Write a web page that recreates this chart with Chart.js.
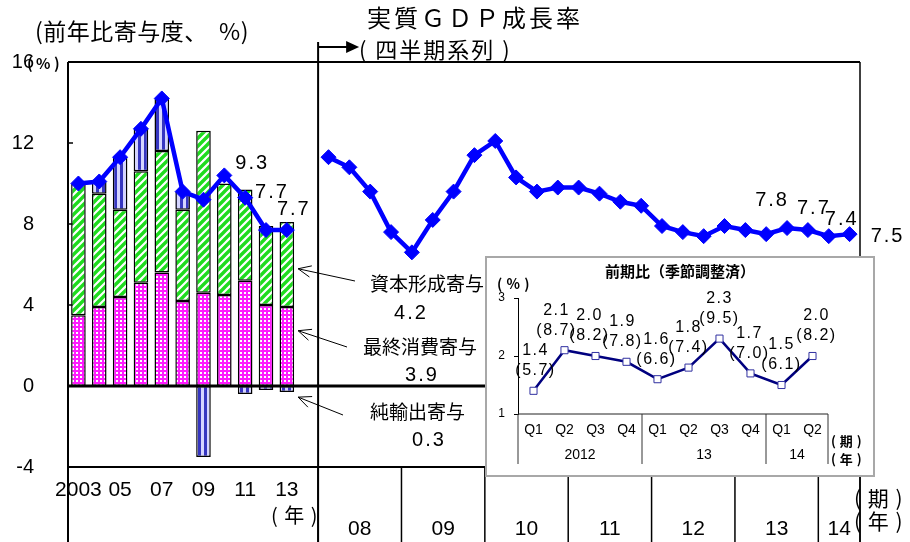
<!DOCTYPE html>
<html lang="ja">
<head>
<meta charset="utf-8">
<title>実質GDP成長率</title>
<script src="https://cdn.jsdelivr.net/npm/chart.js@4.4.1/dist/chart.umd.min.js"></script>
<style>
    html, body { margin: 0; padding: 0; background: #fff; }
    #wrap { position: relative; width: 910px; height: 542px; overflow: hidden; }
    #main { position: absolute; left: 0; top: 0; }
    #insetBox { position: absolute; left: 485px; top: 256px; width: 386px; height: 217px; border: 2px solid #a8a8a8; background: #fff; }
    #inset { display: block; }
</style>
</head>
<body>
<div id="wrap">
    <canvas id="main" width="910" height="542"></canvas>
    <div id="insetBox"><canvas id="inset" width="386" height="217"></canvas></div>
</div>
<script>
// 年次寄与度（2003〜2013年）
const years = ['2003', '2004', '2005', '2006', '2007', '2008', '2009', '2010', '2011', '2012', '2013'];
const yearTicks = ['2003', '', '05', '', '07', '', '09', '', '11', '', '13'];
const consumption = [3.5, 3.9, 4.4, 5.1, 5.6, 4.2, 4.6, 4.5, 5.2, 4.0, 3.9];
const capital = [6.5, 5.6, 4.3, 5.5, 6.0, 4.5, 8.0, 5.5, 4.5, 3.9, 4.2];
const netExports = [0, 0.6, 2.6, 2.1, 2.6, 0.9, -3.5, 0, -0.4, -0.2, -0.3];
const annualGrowth = [10.0, 10.1, 11.3, 12.7, 14.2, 9.6, 9.2, 10.4, 9.3, 7.7, 7.7];

// 四半期系列（2008Q1〜2014Q2、前年同期比）
const quarterYears = ['08', '09', '10', '11', '12', '13', '14'];
const quarterly = [11.3, 10.8, 9.6, 7.6, 6.6, 8.2, 9.6, 11.4, 12.1, 10.3, 9.6, 9.8, 9.8, 9.5, 9.1, 8.9,
                   7.9, 7.6, 7.4, 7.9, 7.7, 7.5, 7.8, 7.7, 7.4, 7.5];

const yTicks = [-4, 0, 4, 8, 12, 16];

// 前期比（季節調整済）
const insetQuarters = ['Q1', 'Q2', 'Q3', 'Q4', 'Q1', 'Q2', 'Q3', 'Q4', 'Q1', 'Q2'];
const insetYears = ['2012', '13', '14'];
const insetYearSpans = [4, 4, 2];
const qoq = [1.4, 2.1, 2.0, 1.9, 1.6, 1.8, 2.3, 1.7, 1.5, 2.0];
const annualized = [5.7, 8.7, 8.2, 7.8, 6.6, 7.4, 9.5, 7.0, 6.1, 8.2];

// 数値ラベルを付ける点と、点からのずらし量
const annualLabelIdx = [8, 9, 10];
const annualLabelShift = [[7, -34], [6, -38], [7, -21]];
const quarterLabelIdx = [22, 23, 24, 25];
const quarterLabelShift = [[-15, -28], [6, -22], [13, -17], [38, 2]];
const insetLabelShift = [2, -8, -6, -4, -1, 0, 0, -1, 0, 4];

const NUM = '"Liberation Sans", Arial, sans-serif';
const JP = '"Noto Sans CJK JP", "Noto Sans", sans-serif';
const GDP_BLUE = '#0000ff';

Chart.defaults.color = '#000';
Chart.defaults.font.family = NUM;

function makePattern(w, h, paint) {
    const c = document.createElement('canvas');
    c.width = w;
    c.height = h;
    const g = c.getContext('2d');
    paint(g, w, h);
    return g.createPattern(c, 'repeat');
}

const pinkChecks = makePattern(4, 4, (g) => {
    g.fillStyle = '#ff1aff';
    g.fillRect(0, 0, 4, 4);
    g.fillStyle = '#ffffff';
    g.fillRect(0, 0, 2, 2);
});

const greenStripes = makePattern(8, 8, (g) => {
    g.fillStyle = '#ffffff';
    g.fillRect(0, 0, 8, 8);
    g.strokeStyle = '#1fdc1f';
    g.lineWidth = 3.4;
    g.beginPath();
    g.moveTo(-4, 12); g.lineTo(12, -4);
    g.moveTo(-4, 4); g.lineTo(4, -4);
    g.moveTo(4, 12); g.lineTo(12, 4);
    g.stroke();
});

const blueStripes = makePattern(6, 2, (g) => {
    g.fillStyle = '#d4d4ff';
    g.fillRect(0, 0, 6, 2);
    g.fillStyle = '#3636c0';
    g.fillRect(0, 0, 3, 2);
});

const pad = n => Array(n).fill(null);
const nQ = quarterly.length;
const mainLabels = years.concat(['']).concat(quarterly.map((_, i) => quarterYears[Math.floor(i / 4)] + 'Q' + (i % 4 + 1)));
const firstQuarter = years.length + 1;

function spacedText(ctx, text, x, y, font, align, spacing) {
    ctx.save();
    ctx.font = font;
    ctx.textAlign = align || 'left';
    ctx.textBaseline = 'middle';
    ctx.letterSpacing = (spacing || 0) + 'px';
    ctx.fillStyle = '#000';
    ctx.fillText(text, x, y);
    ctx.restore();
}

function line(ctx, x1, y1, x2, y2, w, color) {
    ctx.save();
    ctx.strokeStyle = color || '#000';
    ctx.lineWidth = w;
    ctx.beginPath();
    ctx.moveTo(x1, y1);
    ctx.lineTo(x2, y2);
    ctx.stroke();
    ctx.restore();
}

function openArrow(ctx, fromX, fromY, toX, toY) {
    line(ctx, fromX, fromY, toX, toY, 1);
    const ang = Math.atan2(fromY - toY, fromX - toX);
    [0.42, -0.42].forEach(d => {
        line(ctx, toX, toY, toX + 14 * Math.cos(ang + d), toY + 14 * Math.sin(ang + d), 1);
    });
}

// 枠線・年区切り・軸ラベル
const mainFrame = {
    id: 'mainFrame',
    beforeDatasetsDraw(chart) {
        const { ctx, chartArea: a, scales: { x, y } } = chart;
        const half = (x.getPixelForValue(1) - x.getPixelForValue(0)) / 2;
        const split = x.getPixelForValue(firstQuarter) - half;
        const H = chart.height;

        line(ctx, a.left, a.top, a.right, a.top, 2);
        line(ctx, a.left, a.top, a.left, H, 2);
        line(ctx, a.right, a.top, a.right, H, 1.5);
        line(ctx, split, 42, split, H, 2);
        line(ctx, a.left, a.bottom, a.right, a.bottom, 2);

        yTicks.forEach(v => {
            const py = y.getPixelForValue(v);
            line(ctx, a.left, py, a.left + 5, py, 1.5);
        });

        // 四半期側の年区切り
        for (let k = 0; k <= quarterYears.length; k++) {
            const idx = Math.min(firstQuarter + 4 * k, firstQuarter + nQ);
            const px = idx >= firstQuarter + nQ ? a.right : x.getPixelForValue(idx) - half;
            line(ctx, px, a.bottom, px, H, 1.5);
        }
    },
    afterDatasetsDraw(chart) {
        const { ctx, chartArea: a, scales: { x, y } } = chart;
        const half = (x.getPixelForValue(1) - x.getPixelForValue(0)) / 2;
        const split = x.getPixelForValue(firstQuarter) - half;

        line(ctx, a.left, y.getPixelForValue(0), a.right, y.getPixelForValue(0), 3);

        // 年次の横軸ラベル
        yearTicks.forEach((t, i) => {
            if (t) spacedText(ctx, t, x.getPixelForValue(i), a.bottom + 23, '21px ' + NUM, 'center', 0);
        });
        spacedText(ctx, '( 年 )', x.getPixelForValue(years.length - 1) + 8, a.bottom + 48, '20px ' + JP, 'center', 1);

        // 四半期側の年ラベル
        quarterYears.forEach((t, k) => {
            const i0 = firstQuarter + 4 * k;
            const i1 = Math.min(i0 + 3, firstQuarter + nQ - 1);
            const cx = (x.getPixelForValue(i0) + x.getPixelForValue(i1)) / 2;
            spacedText(ctx, t, cx, a.bottom + 62, '21px ' + NUM, 'center', 0);
        });
        spacedText(ctx, '( 期 )', a.right - 6, a.bottom + 31, '21px ' + JP, 'left', 1);
        spacedText(ctx, '( 年 )', a.right - 6, a.bottom + 54, '21px ' + JP, 'left', 1);

        // 数値ラベル
        const annualMeta = chart.getDatasetMeta(3);
        annualLabelIdx.forEach((idx, k) => {
            const p = annualMeta.data[idx];
            spacedText(ctx, annualGrowth[idx].toFixed(1), p.x + annualLabelShift[k][0], p.y + annualLabelShift[k][1], '20px ' + NUM, 'center', 2);
        });
        const quarterMeta = chart.getDatasetMeta(4);
        quarterLabelIdx.forEach((qi, k) => {
            const p = quarterMeta.data[firstQuarter + qi];
            spacedText(ctx, quarterly[qi].toFixed(1), p.x + quarterLabelShift[k][0], p.y + quarterLabelShift[k][1], '20px ' + NUM, 'center', 2);
        });

        // 2013年の寄与度の引き出し線
        const last = years.length - 1;
        const bar = chart.getDatasetMeta(0).data[last];
        const hx = bar.x + bar.width / 2 + 4;
        const c = consumption[last], k = capital[last], n = netExports[last];
        openArrow(ctx, 355, 281, hx, y.getPixelForValue(c + k * 0.45));
        spacedText(ctx, '資本形成寄与', 370, 284, '19px ' + JP, 'left', 0);
        spacedText(ctx, k.toFixed(1), 411, 313, '20px ' + NUM, 'center', 2);
        openArrow(ctx, 347, 347, hx, y.getPixelForValue(c * 0.7));
        spacedText(ctx, '最終消費寄与', 363, 347, '19px ' + JP, 'left', 0);
        spacedText(ctx, c.toFixed(1), 422, 375, '20px ' + NUM, 'center', 2);
        openArrow(ctx, 343, 415, hx, y.getPixelForValue(n - 0.25));
        spacedText(ctx, '純輸出寄与', 370, 412, '19px ' + JP, 'left', 0);
        spacedText(ctx, Math.abs(n).toFixed(1), 429, 440, '20px ' + NUM, 'center', 2);

        // 見出し
        spacedText(ctx, '(前年比寄与度、  %)', 35, 31, '23px ' + JP, 'left', 0.5);
        spacedText(ctx, '( % )', 27, 63, 'bold 15px ' + JP, 'left', 0);
        spacedText(ctx, '実質ＧＤＰ成長率', 367, 18, '24px ' + JP, 'left', 3);
        spacedText(ctx, '( 四半期系列 )', 359, 50, '22px ' + JP, 'left', 2);
        line(ctx, split, 47, split + 30, 47, 2);
        ctx.save();
        ctx.fillStyle = '#000';
        ctx.beginPath();
        ctx.moveTo(split + 28, 41);
        ctx.lineTo(split + 41, 47);
        ctx.lineTo(split + 28, 53);
        ctx.closePath();
        ctx.fill();
        ctx.restore();
    }
};

const barStyle = {
    borderColor: '#000',
    borderWidth: 1.5,
    borderSkipped: false,
    barPercentage: 0.7,
    categoryPercentage: 1,
    stack: 'contrib',
    order: 3
};

const lineStyle = {
    type: 'line',
    borderColor: GDP_BLUE,
    borderWidth: 4.5,
    pointStyle: 'rectRot',
    pointRadius: 7.5,
    pointBackgroundColor: GDP_BLUE,
    pointBorderColor: GDP_BLUE,
    pointBorderWidth: 1,
    spanGaps: false,
    tension: 0,
    order: 1
};

new Chart(document.getElementById('main'), {
    type: 'bar',
    data: {
        labels: mainLabels,
        datasets: [
            { ...barStyle, label: '最終消費寄与', data: consumption.concat(pad(nQ + 1)), backgroundColor: pinkChecks },
            { ...barStyle, label: '資本形成寄与', data: capital.concat(pad(nQ + 1)), backgroundColor: greenStripes },
            { ...barStyle, label: '純輸出寄与', data: netExports.map(v => v === 0 ? null : v).concat(pad(nQ + 1)), backgroundColor: blueStripes },
            { ...lineStyle, label: '実質GDP成長率（年）', stack: 'annual', data: annualGrowth.concat(pad(nQ + 1)) },
            { ...lineStyle, label: '実質GDP成長率（四半期）', stack: 'quarterly', data: pad(firstQuarter).concat(quarterly) }
        ]
    },
    options: {
        responsive: false,
        animation: false,
        layout: { padding: { top: 62, right: 50, bottom: 75, left: 0 } },
        plugins: {
            legend: { display: false },
            tooltip: { enabled: false }
        },
        scales: {
            x: { display: false, stacked: true, offset: true },
            y: {
                stacked: true,
                min: -4,
                max: 16,
                ticks: { stepSize: 4, padding: 34, color: '#000', font: { size: 20, family: NUM } },
                grid: { display: false, drawTicks: false },
                border: { display: false },
                afterFit(s) { s.width = 68; }
            }
        }
    },
    plugins: [mainFrame]
});

// 前期比の小グラフ
const insetDecor = {
    id: 'insetDecor',
    afterDraw(chart) {
        const { ctx, chartArea: a, scales: { x } } = chart;
        const half = (x.getPixelForValue(1) - x.getPixelForValue(0)) / 2;

        line(ctx, a.left, a.bottom, a.right, a.bottom, 1, '#222');
        let start = 0;
        const bounds = [0];
        insetYearSpans.forEach(s => { start += s; bounds.push(start); });
        bounds.forEach(b => {
            const px = b < qoq.length ? x.getPixelForValue(b) - half : x.getPixelForValue(qoq.length - 1) + half;
            line(ctx, px, a.bottom, px, a.bottom + 50, 1, '#333');
        });

        insetQuarters.forEach((q, i) => {
            spacedText(ctx, q, x.getPixelForValue(i), a.bottom + 16, '14px ' + NUM, 'center', 0);
        });
        insetYears.forEach((t, k) => {
            const i0 = bounds[k], i1 = bounds[k + 1] - 1;
            spacedText(ctx, t, (x.getPixelForValue(i0) + x.getPixelForValue(i1)) / 2, a.bottom + 41, '14px ' + NUM, 'center', 0);
        });
        spacedText(ctx, '( 期 )', a.right + 3, a.bottom + 27, 'bold 13px ' + JP, 'left', 0.5);
        spacedText(ctx, '( 年 )', a.right + 3, a.bottom + 45, 'bold 13px ' + JP, 'left', 0.5);

        spacedText(ctx, '前期比（季節調整済）', 193, 13, 'bold 15px ' + JP, 'center', 0);
        spacedText(ctx, '( % )', 10, 26, 'bold 14px ' + JP, 'left', 0.5);

        const meta = chart.getDatasetMeta(0);
        meta.data.forEach((p, i) => {
            const cx = p.x + insetLabelShift[i];
            spacedText(ctx, qoq[i].toFixed(1), cx, p.y - 40, '16px ' + NUM, 'center', 1.5);
            spacedText(ctx, '(' + annualized[i].toFixed(1) + ')', cx, p.y - 20, '16px ' + NUM, 'center', 1.5);
        });
    }
};

new Chart(document.getElementById('inset'), {
    type: 'line',
    data: {
        labels: insetQuarters,
        datasets: [{
            label: '前期比',
            data: qoq,
            borderColor: '#00007f',
            borderWidth: 2.5,
            pointStyle: 'rect',
            pointRadius: 5,
            pointBackgroundColor: '#fff',
            pointBorderColor: '#3030a0',
            pointBorderWidth: 1,
            tension: 0
        }]
    },
    options: {
        responsive: false,
        animation: false,
        layout: { padding: { top: 40, right: 45, bottom: 61, left: 0 } },
        plugins: {
            legend: { display: false },
            tooltip: { enabled: false }
        },
        scales: {
            x: { display: false, offset: true },
            y: {
                min: 1,
                max: 3,
                ticks: { stepSize: 1, padding: 9, color: '#000', font: { size: 12, family: NUM } },
                grid: { drawOnChartArea: false, tickLength: 4, color: '#000' },
                border: { display: true, color: '#000', width: 1 },
                afterFit(s) { s.width = 31; }
            }
        }
    },
    plugins: [insetDecor]
});
</script>
</body>
</html>
